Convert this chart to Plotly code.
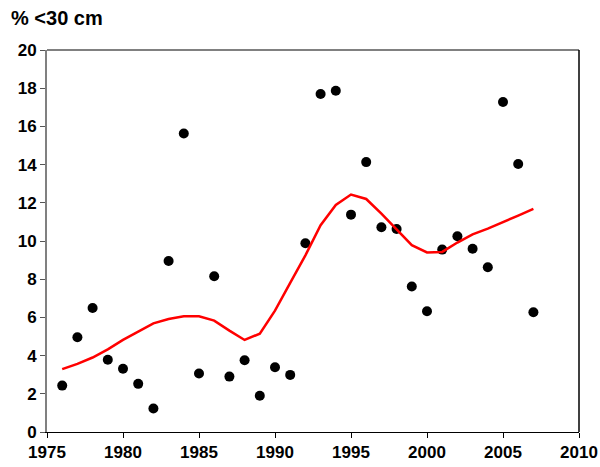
import plotly.graph_objects as go

years = list(range(1976, 2008))
points = [2.43, 4.96, 6.49, 3.78, 3.31, 2.52, 1.23, 8.95, 15.63, 3.06,
          8.15, 2.90, 3.76, 1.90, 3.39, 2.99, 9.88, 17.70, 17.87, 11.38,
          14.13, 10.72, 10.63, 7.62, 6.32, 9.55, 10.25, 9.59, 8.63, 17.28,
          14.03, 6.27]
smooth = [3.29, 3.57, 3.90, 4.33, 4.82, 5.27, 5.69, 5.92, 6.06, 6.06,
          5.83, 5.31, 4.82, 5.15, 6.35, 7.81, 9.25, 10.83, 11.89, 12.43,
          12.20, 11.43, 10.60, 9.78, 9.40, 9.43, 9.92, 10.35, 10.65, 10.97,
          11.33, 11.68]
x_ticks = [1975, 1980, 1985, 1990, 1995, 2000, 2005, 2010]
y_ticks = [0, 2, 4, 6, 8, 10, 12, 14, 16, 18, 20]
title_text = "% <30 cm"

FONT = "Liberation Sans"

fig = go.Figure()
fig.add_trace(go.Scatter(x=years, y=points, mode="markers",
                         marker=dict(color="black", size=10),
                         showlegend=False, cliponaxis=False))
fig.add_trace(go.Scatter(x=years, y=smooth, mode="lines",
                         line=dict(color="#ff0000", width=2.5),
                         showlegend=False))

fig.update_layout(
    width=600, height=467,
    margin=dict(l=47, r=21, t=50, b=35),
    plot_bgcolor="white", paper_bgcolor="white",
    font=dict(family=FONT, size=17, color="black"),
    title=dict(text="<b>" + title_text + "</b>", x=11/600, xanchor="left", xref="container",
               y=1 - 18/467, yanchor="middle", yref="container",
               font=dict(size=20, family=FONT, color="black")),
    xaxis=dict(range=[1975, 2010], tickvals=x_ticks,
               ticktext=["<b>%d</b>" % v for v in x_ticks],
               tickfont=dict(family=FONT, size=17, color="black"),
               automargin=False,
               showgrid=False, zeroline=False, showline=True,
               linecolor="black", linewidth=1,
               ticks="outside", ticklen=5, tickcolor="black", tickwidth=1),
    yaxis=dict(range=[0, 20], tickvals=y_ticks,
               ticktext=["<b>%d</b>" % v for v in y_ticks],
               tickfont=dict(family=FONT, size=17, color="black"),
               automargin=False,
               showgrid=False, zeroline=False, showline=True,
               linecolor="#808080", linewidth=2,
               ticks="outside", ticklen=5, tickcolor="#555555", tickwidth=1),
)
fig.add_shape(type="line", xref="paper", yref="paper", x0=0, x1=1, y0=1, y1=1,
              line=dict(color="#808080", width=2))
fig.add_shape(type="line", xref="paper", yref="paper", x0=1, x1=1, y0=0, y1=1,
              line=dict(color="black", width=1.5))

fig.write_html("out.html")
